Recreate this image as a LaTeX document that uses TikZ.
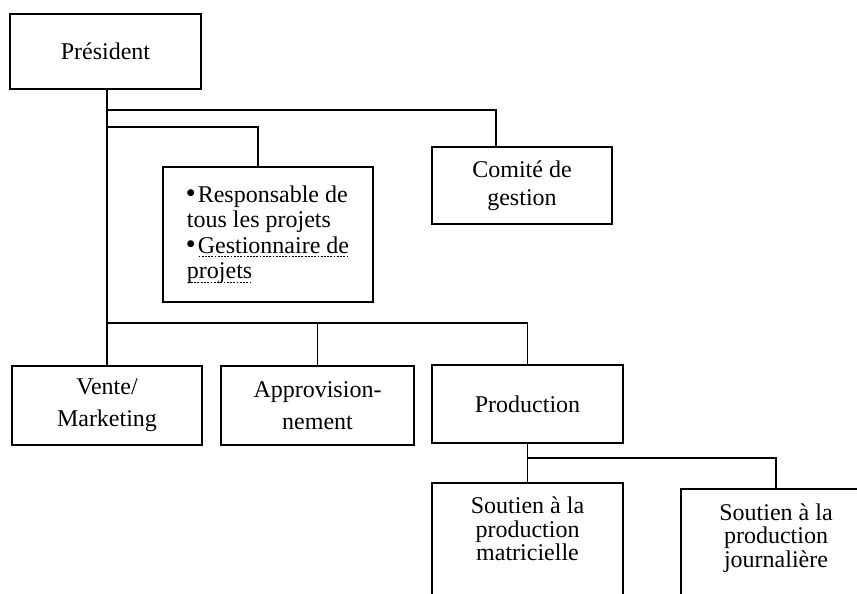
\documentclass[tikz,border=0pt]{standalone}
\usepackage{fontspec}
\setmainfont{Liberation Serif}
\newfontfamily\pucefont{DejaVu Sans}
% soulignement pointille sous les mots
\newsavebox\motbox
\newcommand\spellline[1]{\sbox\motbox{#1}\rlap{\hbox to \wd\motbox{\xleaders\hbox{\kern0.7pt\vrule height -3pt depth 3.6pt width 1.8pt\kern0.7pt}\hfill}}\usebox\motbox}
\newcommand\puce{{\pucefont\fontsize{9}{9}\selectfont\raisebox{7pt}{●}}\kern3pt}
\begin{document}
\begin{tikzpicture}[x=1pt,y=-1pt,line width=1.1pt]
          \tikzstyle{every node}=[draw,shape=rectangle,inner sep=0pt,align=center,font=\fontsize{24}{23.5}\selectfont];
          \useasboundingbox (0,0) rectangle (857,594);
          \clip (0,0) rectangle (857,594);
          %\node (name) at (x,y) [minimum width=..] {text};
          \node[minimum width=191pt,minimum height=75pt] (pres) at (105.5,51.5) {Président};
          \node[minimum width=180pt,minimum height=77pt,font=\fontsize{24}{28}\selectfont] (comite) at (522,185.5) {Comité de\\gestion};
          \node[minimum width=210pt,minimum height=135pt,align=left,font=\fontsize{24}{25.5}\selectfont] (resp) at (268,234.5) {\puce Responsable de\\tous les projets\\\puce\spellline{Gestionnaire de}\\\spellline{projets}};
          \node[minimum width=190pt,minimum height=79pt,font=\fontsize{24}{32}\selectfont] (vente) at (107,405.5) {Vente/\\Marketing};
          \node[minimum width=193pt,minimum height=79pt,font=\fontsize{24}{32}\selectfont] (approv) at (317.5,405.5) {Approvision-\\nement};
          \node[minimum width=191pt,minimum height=78pt] (prod) at (527.5,404) {Production};
          % boites coupees en bas de la page
          \node[minimum width=191pt,minimum height=121.6pt] (soutA) at (527.5,543.8) {Soutien à la\\production\\matricielle\rule[-30pt]{0pt}{0pt}};
          \node[minimum width=190pt,minimum height=122.6pt] (soutB) at (776,550.3) {Soutien à la\\production\\journalière\rule[-30pt]{0pt}{0pt}};
          \coordinate (lvl1) at (0,110);
          \coordinate (lvl2) at (0,127);
          \coordinate (lvl3) at (0,323);
          \coordinate (lvl4) at (0,458);
          \draw (pres.south -| vente.north)--(vente.north);
          \draw (vente.north |- lvl1) -| ([xshift=-26pt]comite.north);
          \draw (vente.north |- lvl2) -| ([xshift=-10pt]resp.north);
          \draw (vente.north |- lvl3) -| (prod.north);
          \draw (approv.north |- lvl3)--(approv.north);
          \draw (prod.south)--(soutA.north);
          \draw (prod.south |- lvl4) -| (soutB.north);
      \end{tikzpicture}
\end{document}
